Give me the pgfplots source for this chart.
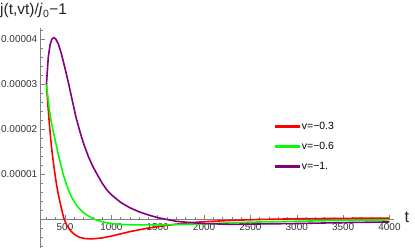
\documentclass[border=0pt]{standalone}
\usepackage{fontspec}
\setmainfont{Liberation Sans}
\usepackage{pgfplots}
\pgfplotsset{compat=1.18}
\definecolor{mred}{rgb}{1,0,0}
\definecolor{mgreen}{rgb}{0,1,0}
\definecolor{mpurple}{rgb}{0.5,0,0.5}
\definecolor{axgray}{gray}{0.5}
\begin{document}
\begin{tikzpicture}
\path[use as bounding box] (0,0) rectangle (415bp,251bp);
\begin{axis}[
  scale only axis, width=353.4bp, height=220bp,
  at={(40.7bp,3bp)}, anchor=south west,
  xmin=238, xmax=4050, ymin=-0.644e-5, ymax=4.244e-5,
  axis x line=middle, axis y line=left,
  axis line style={axgray, line width=0.6pt, -},
  xtick={500,1000,...,4000},
  minor xtick={300,400,...,4000},
  ytick={1e-5,2e-5,3e-5,4e-5},
  yticklabels={0.00001,0.00002,0.00003,0.00004},
  scaled y ticks=false,
  minor ytick={-6e-6,-4e-6,-2e-6,2e-6,4e-6,6e-6,8e-6,12e-6,14e-6,16e-6,18e-6,22e-6,24e-6,26e-6,28e-6,32e-6,34e-6,36e-6,38e-6,42e-6},
  tick style={axgray, line width=0.5pt},
  major tick length=4bp, minor tick length=2.5bp,
  tick align=inside,
  /pgf/number format/assume math mode=true,
  /pgf/number format/1000 sep={},
  tick label style={font=\fontsize{10}{12}\selectfont, text=black!80},
  xticklabel style={yshift=-1.5bp},
  legend style={draw=none, fill=none, at={(rel axis cs:0.655,0.592)}, anchor=north west,
    font=\fontsize{10.5}{12}\selectfont, row sep=7.5bp},
  legend cell align=left,
  legend image code/.code={\fill[#1] (0bp,-0.7bp) rectangle (23bp,0.7bp);},
]
\addplot[color=mred, line width=1.6pt] coordinates {
(300,3.00e-5)(315,2.55e-5)(330,2.15e-5)(345,1.80e-5)(360,1.50e-5)(380,1.17e-5)
(400,0.88e-5)(425,0.58e-5)(450,0.34e-5)(475,0.12e-5)(490,0.0)(520,-0.14e-5)
(560,-0.26e-5)(600,-0.34e-5)(650,-0.40e-5)(700,-0.43e-5)(750,-0.44e-5)(800,-0.44e-5)
(900,-0.42e-5)(1000,-0.38e-5)(1100,-0.33e-5)(1200,-0.28e-5)(1400,-0.20e-5)
(1600,-0.14e-5)(1800,-0.09e-5)(2000,-0.06e-5)(2300,-0.03e-5)(2600,-0.01e-5)
(3000,0.005e-5)(3500,0.015e-5)(4000,0.02e-5)};
\addlegendentry{v=−0.3}
\addplot[color=mgreen, line width=1.6pt] coordinates {
(300,3.00e-5)(315,2.72e-5)(330,2.46e-5)(350,2.18e-5)(372,1.96e-5)(400,1.70e-5)
(425,1.45e-5)(450,1.25e-5)(480,1.00e-5)(510,0.80e-5)(540,0.63e-5)(575,0.47e-5)
(610,0.35e-5)(650,0.24e-5)(700,0.14e-5)(750,0.07e-5)(800,0.01e-5)(850,-0.03e-5)
(900,-0.06e-5)(1000,-0.10e-5)(1100,-0.12e-5)(1250,-0.13e-5)(1500,-0.13e-5)
(1800,-0.12e-5)(2100,-0.10e-5)(2500,-0.07e-5)(3000,-0.05e-5)(3500,-0.03e-5)(4000,-0.02e-5)};
\addlegendentry{v=−0.6}
\addplot[color=mpurple, line width=1.6pt] coordinates {
(300,3.00e-5)(320,3.60e-5)(340,3.88e-5)(360,4.00e-5)(380,4.03e-5)(400,4.00e-5)
(430,3.88e-5)(460,3.68e-5)(500,3.35e-5)(540,3.00e-5)(580,2.62e-5)(620,2.25e-5)
(660,1.95e-5)(700,1.68e-5)(750,1.40e-5)(800,1.17e-5)(850,0.98e-5)(900,0.80e-5)
(950,0.65e-5)(1000,0.54e-5)(1100,0.37e-5)(1200,0.25e-5)(1300,0.16e-5)(1400,0.09e-5)
(1500,0.03e-5)(1600,-0.01e-5)(1700,-0.05e-5)(1800,-0.07e-5)(2000,-0.10e-5)
(2300,-0.12e-5)(2600,-0.11e-5)(3000,-0.10e-5)(3500,-0.08e-5)(4000,-0.065e-5)};
\addlegendentry{v=−1.}
\end{axis}
\node[anchor=base west, inner sep=0pt, font=\fontsize{15.5}{18}\selectfont, text=black!85] at (0bp,236bp) {j(t,vt)/\textit{j}\kern0.5bp\raisebox{-2.5bp}{\fontsize{10.5}{12}\selectfont 0}\kern0.5bp−1};
\node[anchor=center, inner sep=0pt, font=\fontsize{16.5}{19}\selectfont, text=black!85] at (407bp,34bp) {t};
\end{tikzpicture}
\end{document}
